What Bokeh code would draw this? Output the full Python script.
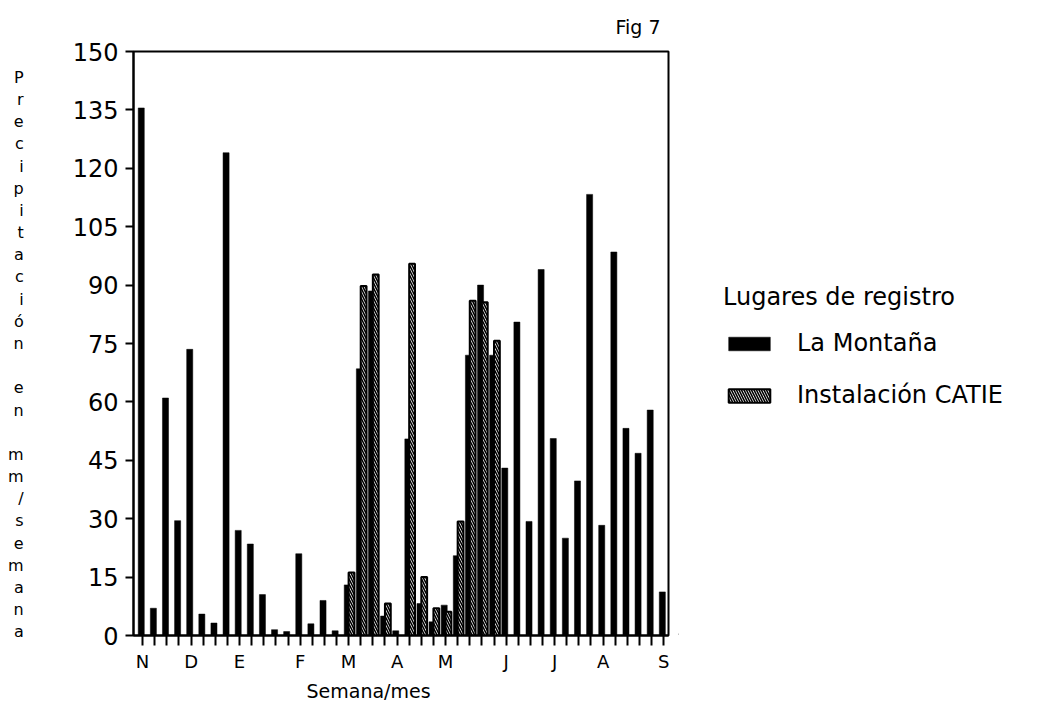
from bokeh.plotting import figure
from bokeh.layouts import row
from bokeh.models import FixedTicker, Legend, LegendItem, Range1d, ColumnDataSource, Title
from bokeh.embed import file_html
from bokeh.resources import INLINE

# ---- data ----
weeks = list(range(1, 45))
month_labels = {1: "N", 5: "D", 9: "E", 14: "F", 18: "M", 22: "A", 26: "M",
                31: "J", 35: "J", 39: "A", 44: "S"}
la_montana = [135.5, 7, 61, 29.5, 73.5, 5.5, 3.2, 124, 27, 23.5, 10.5, 1.5, 1,
              21, 3, 9, 1.2, 13, 68.5, 88.5, 5, 1.2, 50.5, 8.2, 3.5, 7.8, 20.5,
              72, 90, 72, 43, 80.5, 29.3, 94, 50.6, 25, 39.7, 113.3, 28.3, 98.5,
              53.2, 46.8, 57.9, 11.2]
catie_weeks = [18, 19, 20, 21, 23, 24, 25, 26, 27, 28, 29, 30]
catie = [16.2, 89.8, 92.7, 8.2, 95.5, 15, 7, 6.1, 29.3, 86, 85.6, 75.7]
y_ticks = [0, 15, 30, 45, 60, 75, 90, 105, 120, 135, 150]
y_title = "Precipitación en mm/semana"
x_title = "Semana/mes"
legend_title = "Lugares de registro"
series_names = ["La Montaña", "Instalación CATIE"]
fig_note = "Fig 7"

FONT = "DejaVu Sans"
X0, X1 = 0.25, 44.4
H = 714

black_style = dict(fill_color="black", line_color="black", line_width=0.5)
hatch_style = dict(fill_color="white", line_color="black", line_width=2,
                   hatch_pattern="left_diagonal_line", hatch_color="black",
                   hatch_scale=5, hatch_weight=1.6)

p = figure(frame_width=535, frame_height=584, x_range=Range1d(X0, X1),
           y_range=Range1d(0, 150), output_backend="svg", toolbar_location=None,
           min_border_left=133, min_border_right=10, min_border_top=50,
           min_border_bottom=H - 634)
p.grid.visible = False
p.outline_line_color = "black"
p.outline_line_width = 2

src_m = ColumnDataSource(dict(x=[w - 0.11 for w in weeks], top=la_montana))
src_c = ColumnDataSource(dict(x=[w + 0.24 for w in catie_weeks], top=catie))
p.vbar(x="x", top="top", bottom=0, width=0.5, source=src_m, **black_style)
p.vbar(x="x", top="top", bottom=0, width=0.48, source=src_c, **hatch_style)

# x axis
xa = p.xaxis[0]
xa.ticker = FixedTicker(ticks=weeks)
xa.major_label_overrides = {w: month_labels.get(w, "") for w in weeks}
xa.major_tick_out = 10
xa.major_tick_in = 0
xa.minor_tick_line_color = None
xa.major_tick_line_width = 2
xa.axis_line_width = 2
xa.major_label_text_font = FONT
xa.major_label_text_font_size = "18px"
xa.major_label_text_color = "black"
xa.major_label_standoff = 5

p.add_layout(Title(text=x_title, align="left", offset=173, standoff=6,
                   text_font=FONT, text_font_size="19px",
                   text_font_style="normal", text_color="black"), "below")
p.add_layout(Title(text=fig_note, align="right", offset=8, standoff=27,
                   text_font=FONT, text_font_size="19px",
                   text_font_style="normal", text_color="black"), "above")

# y axis
ya = p.yaxis[0]
ya.ticker = FixedTicker(ticks=y_ticks)
ya.major_tick_out = 8
ya.major_tick_in = 0
ya.minor_tick_line_color = None
ya.major_tick_line_width = 2
ya.axis_line_width = 2
ya.major_label_text_font = FONT
ya.major_label_text_font_size = "24px"
ya.major_label_text_color = "black"
ya.major_label_standoff = 7
ya.axis_label = "\n".join([" "] + [c for c in y_title])
ya.axis_label_orientation = "horizontal"
ya.axis_label_text_font = FONT
ya.axis_label_text_font_size = "16px"
ya.axis_label_text_font_style = "normal"
ya.axis_label_text_color = "black"
ya.axis_label_text_line_height = 1.167
ya.axis_label_standoff = 46

# legend panel (proxy renderers sit outside the visible range)
QW = 360
q = figure(width=QW, height=H, x_range=Range1d(0, QW), y_range=Range1d(0, H),
           x_axis_type=None, y_axis_type=None, output_backend="svg",
           toolbar_location=None, min_border=0)
q.grid.visible = False
q.outline_line_color = None
proxy = ColumnDataSource(dict(x=[-100], top=[0]))
k_m = q.vbar(x="x", top="top", bottom=0, width=1, source=proxy, **black_style)
k_c = q.vbar(x="x", top="top", bottom=0, width=1, source=proxy, **hatch_style)
legend = Legend(items=[LegendItem(label=series_names[0], renderers=[k_m]),
                       LegendItem(label=series_names[1], renderers=[k_c])],
                location=(723 - 678, 225), title=legend_title,
                title_text_font=FONT, title_text_font_size="24px",
                title_text_font_style="normal", title_text_color="black",
                title_standoff=18,
                label_text_font=FONT, label_text_font_size="24px",
                label_text_color="black",
                glyph_width=52, glyph_height=17, label_height=24,
                label_standoff=22, spacing=24, padding=0, margin=0,
                border_line_alpha=0, background_fill_alpha=0)
q.add_layout(legend)

open("out.html", "w").write(file_html(row(p, q), INLINE))
